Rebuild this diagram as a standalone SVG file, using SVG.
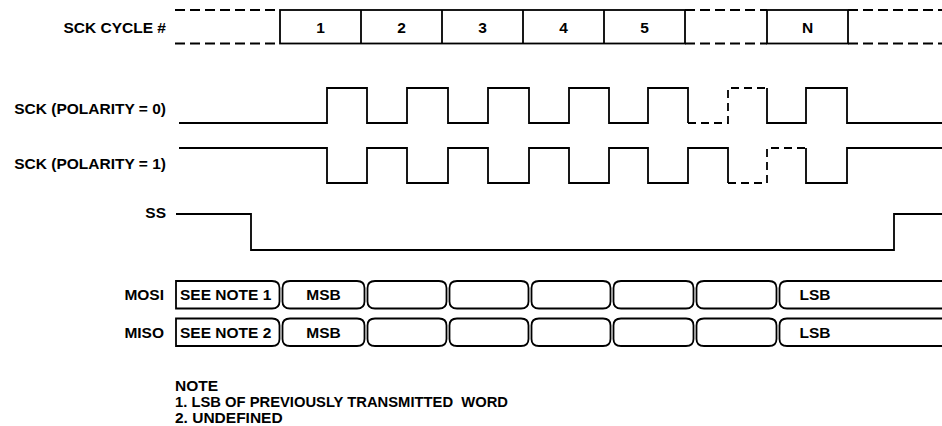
<svg xmlns="http://www.w3.org/2000/svg" width="942" height="426" viewBox="0 0 942 426">
<style>
text{font-family:"Liberation Sans",Arial,sans-serif;font-weight:bold;font-size:15.5px;fill:#000}
.lbl{text-anchor:end}
.c{text-anchor:middle}
.w{fill:none;stroke:#000;stroke-width:1.8;stroke-linejoin:miter}
.d{fill:none;stroke:#000;stroke-width:1.8;stroke-dasharray:8 5}
.dt{fill:none;stroke:#000;stroke-width:1.8;stroke-dasharray:10 5}
.cell{fill:#fff;stroke:#000;stroke-width:1.8}
</style>
<rect width="942" height="426" fill="#fff"/>
<g id="labels">
<text class="lbl" x="166" y="33">SCK CYCLE #</text>
<text class="lbl" x="166" y="114">SCK (POLARITY = 0)</text>
<text class="lbl" x="166" y="169">SCK (POLARITY = 1)</text>
<text class="lbl" x="166" y="218">SS</text>
<text class="lbl" x="164" y="300">MOSI</text>
<text class="lbl" x="164" y="337.5">MISO</text>
</g>
<g id="cycles">
<path class="dt" d="M175,10 H280 M175,43.5 H280 M685,10 H767 M685,43.5 H767 M848,10 H942 M848,43.5 H942"/>
<rect class="w" x="280" y="10" width="405" height="33.5"/>
<path class="w" d="M361,10 V43.5 M442,10 V43.5 M523,10 V43.5 M604,10 V43.5"/>
<rect class="w" x="767" y="10" width="81" height="33.5"/>
<text class="c" x="320.5" y="33">1</text>
<text class="c" x="401.5" y="33">2</text>
<text class="c" x="482.5" y="33">3</text>
<text class="c" x="563.5" y="33">4</text>
<text class="c" x="644.5" y="33">5</text>
<text class="c" x="807.5" y="33">N</text>
</g>
<g id="sck0">
<path class="w" d="M179,123 H327 V88 H367 V123 H407 V88 H448 V123 H488 V88 H529 V123 H569 V88 H609 V123 H648 V88 H688 V123"/>
<path class="d" d="M688,123 H728 V88 H767"/>
<path class="w" d="M767,88 V123 H806 V88 H847 V123 H942"/>
</g>
<g id="sck1">
<path class="w" d="M179,148 H327 V183 H367 V148 H407 V183 H448 V148 H488 V183 H529 V148 H569 V183 H609 V148 H648 V183 H688 V148 H728 V183"/>
<path class="d" d="M728,183 H767 V148 H806"/>
<path class="w" d="M806,148 V183 H847 V148 H942"/>
</g>
<g id="ss">
<path class="w" d="M176,214 H251 V250 H894 V214 H942"/>
</g>
<g id="mosi">
<path class="cell" d="M176,281 H272 Q279.5,281 279.5,288 V301.5 Q279.5,308.5 272,308.5 H176 Z"/>
<path class="cell" d="M290,281 H357 Q364.5,281 364.5,288 V301.5 Q364.5,308.5 357,308.5 H290 Q282.5,308.5 282.5,301.5 V288 Q282.5,281 290,281 Z"/>
<path class="cell" d="M375,281 H439 Q446.5,281 446.5,288 V301.5 Q446.5,308.5 439,308.5 H375 Q367.5,308.5 367.5,301.5 V288 Q367.5,281 375,281 Z"/>
<path class="cell" d="M457,281 H521 Q528.5,281 528.5,288 V301.5 Q528.5,308.5 521,308.5 H457 Q449.5,308.5 449.5,301.5 V288 Q449.5,281 457,281 Z"/>
<path class="cell" d="M539,281 H603 Q610.5,281 610.5,288 V301.5 Q610.5,308.5 603,308.5 H539 Q531.5,308.5 531.5,301.5 V288 Q531.5,281 539,281 Z"/>
<path class="cell" d="M621,281 H686 Q693.5,281 693.5,288 V301.5 Q693.5,308.5 686,308.5 H621 Q613.5,308.5 613.5,301.5 V288 Q613.5,281 621,281 Z"/>
<path class="cell" d="M704,281 H769 Q776.5,281 776.5,288 V301.5 Q776.5,308.5 769,308.5 H704 Q696.5,308.5 696.5,301.5 V288 Q696.5,281 704,281 Z"/>
<path class="cell" d="M944,281 H787 Q779.5,281 779.5,288 V301.5 Q779.5,308.5 787,308.5 H944"/>
<text x="180" y="300">SEE NOTE 1</text>
<text class="c" x="323.5" y="300">MSB</text>
<text class="c" x="815" y="300">LSB</text>
</g>
<g id="miso">
<path class="cell" d="M176,318.5 H272 Q279.5,318.5 279.5,325.5 V339 Q279.5,346 272,346 H176 Z"/>
<path class="cell" d="M290,318.5 H357 Q364.5,318.5 364.5,325.5 V339 Q364.5,346 357,346 H290 Q282.5,346 282.5,339 V325.5 Q282.5,318.5 290,318.5 Z"/>
<path class="cell" d="M375,318.5 H439 Q446.5,318.5 446.5,325.5 V339 Q446.5,346 439,346 H375 Q367.5,346 367.5,339 V325.5 Q367.5,318.5 375,318.5 Z"/>
<path class="cell" d="M457,318.5 H521 Q528.5,318.5 528.5,325.5 V339 Q528.5,346 521,346 H457 Q449.5,346 449.5,339 V325.5 Q449.5,318.5 457,318.5 Z"/>
<path class="cell" d="M539,318.5 H603 Q610.5,318.5 610.5,325.5 V339 Q610.5,346 603,346 H539 Q531.5,346 531.5,339 V325.5 Q531.5,318.5 539,318.5 Z"/>
<path class="cell" d="M621,318.5 H686 Q693.5,318.5 693.5,325.5 V339 Q693.5,346 686,346 H621 Q613.5,346 613.5,339 V325.5 Q613.5,318.5 621,318.5 Z"/>
<path class="cell" d="M704,318.5 H769 Q776.5,318.5 776.5,325.5 V339 Q776.5,346 769,346 H704 Q696.5,346 696.5,339 V325.5 Q696.5,318.5 704,318.5 Z"/>
<path class="cell" d="M944,318.5 H787 Q779.5,318.5 779.5,325.5 V339 Q779.5,346 787,346 H944"/>
<text x="180" y="337.5">SEE NOTE 2</text>
<text class="c" x="323.5" y="337.5">MSB</text>
<text class="c" x="815" y="337.5">LSB</text>
</g>
<g id="notes">
<text x="175" y="391">NOTE</text>
<text x="175" y="407" xml:space="preserve" textLength="333" lengthAdjust="spacingAndGlyphs">1. LSB OF PREVIOUSLY TRANSMITTED  WORD</text>
<text x="175" y="423">2. UNDEFINED</text>
</g>
</svg>
